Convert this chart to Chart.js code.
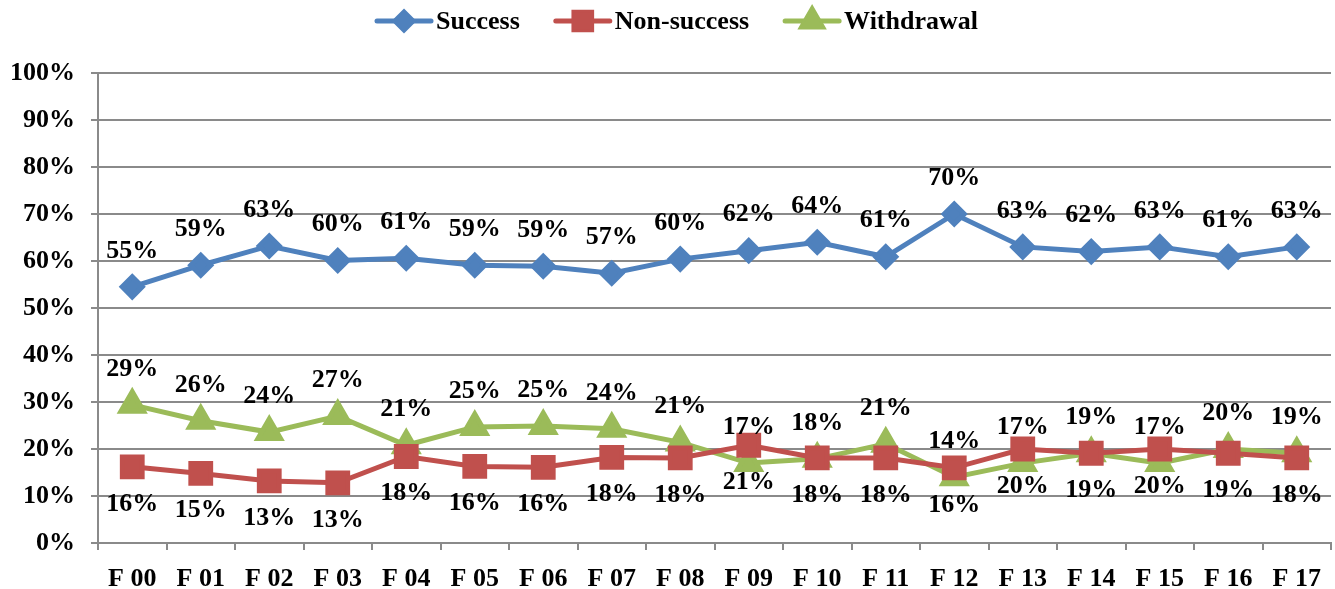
<!DOCTYPE html>
<html>
<head>
<meta charset="utf-8">
<script src="https://cdn.jsdelivr.net/npm/chart.js@4.4.1/dist/chart.umd.min.js"></script>
<style>
  html, body { margin: 0; padding: 0; background: #fff; overflow: hidden; }
  #wrap { width: 1335px; height: 589px; position: relative; }
  canvas { display: block; }
</style>
</head>
<body>
<div id="wrap"><canvas id="lineChart"></canvas></div>
<script>
// 類別
const labels = ['F 00', 'F 01', 'F 02', 'F 03', 'F 04', 'F 05', 'F 06', 'F 07', 'F 08',
                'F 09', 'F 10', 'F 11', 'F 12', 'F 13', 'F 14', 'F 15', 'F 16', 'F 17'];

// 數值 (%)
const success    = [54.5, 59.1, 63.2, 60.1, 60.6, 59.1, 58.9, 57.4, 60.4, 62.2, 64.0, 60.9, 70.0, 63.0, 62.0, 63.0, 60.9, 63.0];
const nonSuccess = [16.2, 14.8, 13.2, 12.8, 18.4, 16.3, 16.1, 18.2, 18.1, 20.8, 18.1, 18.1, 16.0, 20.0, 19.1, 20.0, 19.1, 18.1];
const withdrawal = [29.4, 26.0, 23.6, 27.0, 20.8, 24.7, 24.9, 24.3, 21.4, 17.0, 17.9, 21.1, 14.0, 17.0, 19.1, 17.0, 20.0, 19.1];

const yTicks = [0, 10, 20, 30, 40, 50, 60, 70, 80, 90, 100];

const FONT = '"Liberation Serif", "Times New Roman", serif';
const BLUE = '#4F81BD', RED = '#C0504D', GREEN = '#9BBB59', GRID = '#8a8a8a';

// 標籤 (上 / 下)
const labelOffset = [-36, 37, -36];

const dataLabels = {
    id: 'dataLabels',
    afterDatasetsDraw(chart) {
        const ctx = chart.ctx;
        ctx.save();
        ctx.font = 'bold 26px ' + FONT;
        ctx.fillStyle = '#000';
        ctx.textAlign = 'center';
        ctx.textBaseline = 'middle';
        chart.data.datasets.forEach((ds, i) => {
            const meta = chart.getDatasetMeta(i);
            meta.data.forEach((pt, j) => {
                ctx.fillText(Math.round(ds.data[j]) + '%', pt.x, pt.y + labelOffset[i]);
            });
        });
        ctx.restore();
    }
};

// 圖例 (線 + 點)
const legendRadius = [9, 12.5, 12];

const lineLegend = {
    id: 'lineLegend',
    afterDraw(chart) {
        const ctx = chart.ctx;
        const items = chart.data.datasets;
        const y = 21, lineLen = 54, gap = 5, space = 36;
        ctx.save();
        ctx.font = 'bold 26px ' + FONT;
        let total = 0;
        const widths = items.map(ds => ctx.measureText(ds.label).width);
        widths.forEach(w => total += lineLen + gap + w);
        total += space * (items.length - 1);
        let x = (chart.width - total) / 2 + 10;
        items.forEach((ds, i) => {
            ctx.strokeStyle = ds.borderColor;
            ctx.lineWidth = 5;
            ctx.lineCap = 'round';
            ctx.beginPath();
            ctx.moveTo(x, y);
            ctx.lineTo(x + lineLen, y);
            ctx.stroke();
            Chart.helpers.drawPoint(ctx, {
                pointStyle: ds.pointStyle, radius: legendRadius[i], rotation: 0,
                borderWidth: 1
            }, x + lineLen / 2, y);
            ctx.fillStyle = ds.backgroundColor;
            ctx.fill();
            ctx.fillStyle = '#000';
            ctx.textAlign = 'left';
            ctx.textBaseline = 'middle';
            ctx.fillText(ds.label, x + lineLen + gap, y + 1);
            x += lineLen + gap + widths[i] + space;
        });
        ctx.restore();
    }
};

const ctx = document.getElementById('lineChart').getContext('2d');

const LineChart = new Chart(ctx, {
    type: 'line',
    data: {
        labels: labels,
        datasets: [{
            label: 'Success',
            data: success,
            borderColor: BLUE,
            backgroundColor: BLUE,
            pointStyle: 'rectRot',
            pointRadius: 10,
            borderWidth: 5
        }, {
            label: 'Non-success',
            data: nonSuccess,
            borderColor: RED,
            backgroundColor: RED,
            pointStyle: 'rect',
            pointRadius: 14,
            borderWidth: 5
        }, {
            label: 'Withdrawal',
            data: withdrawal,
            borderColor: GREEN,
            backgroundColor: GREEN,
            pointStyle: 'triangle',
            pointRadius: 13,
            borderWidth: 5
        }]
    },
    options: {
        responsive: true,
        maintainAspectRatio: false,
        animation: false,
        layout: {
            autoPadding: false,
            padding: { top: 73, right: 4, left: 0, bottom: 0 }
        },
        elements: {
            line: { tension: 0 },
            point: { borderWidth: 0, hoverRadius: 10 }
        },
        scales: {
            x: {
                offset: true,
                grid: {
                    offset: true,
                    drawOnChartArea: false,
                    drawTicks: true,
                    tickLength: 7,
                    color: GRID,
                    lineWidth: 2
                },
                border: { color: GRID, width: 2 },
                ticks: {
                    padding: 14,
                    color: '#000',
                    maxRotation: 0,
                    font: { family: FONT, size: 26, weight: 'bold' }
                },
                afterFit(scale) {
                    scale.height = 46;
                    scale.paddingLeft = 0;
                    scale.paddingRight = 0;
                }
            },
            y: {
                min: 0,
                max: 100,
                afterBuildTicks(scale) { scale.ticks = yTicks.map(v => ({ value: v })); },
                grid: {
                    color: GRID,
                    lineWidth: 2,
                    tickLength: 7
                },
                border: { color: GRID, width: 2 },
                ticks: {
                    padding: 16,
                    color: '#000',
                    font: { family: FONT, size: 26, weight: 'bold' },
                    callback: v => v + '%'
                },
                afterFit(scale) {
                    scale.width = 98;
                    scale.paddingTop = 0;
                    scale.paddingBottom = 0;
                }
            }
        },
        plugins: {
            legend: { display: false },
            tooltip: { enabled: false }
        }
    },
    plugins: [dataLabels, lineLegend]
});
</script>
</body>
</html>
